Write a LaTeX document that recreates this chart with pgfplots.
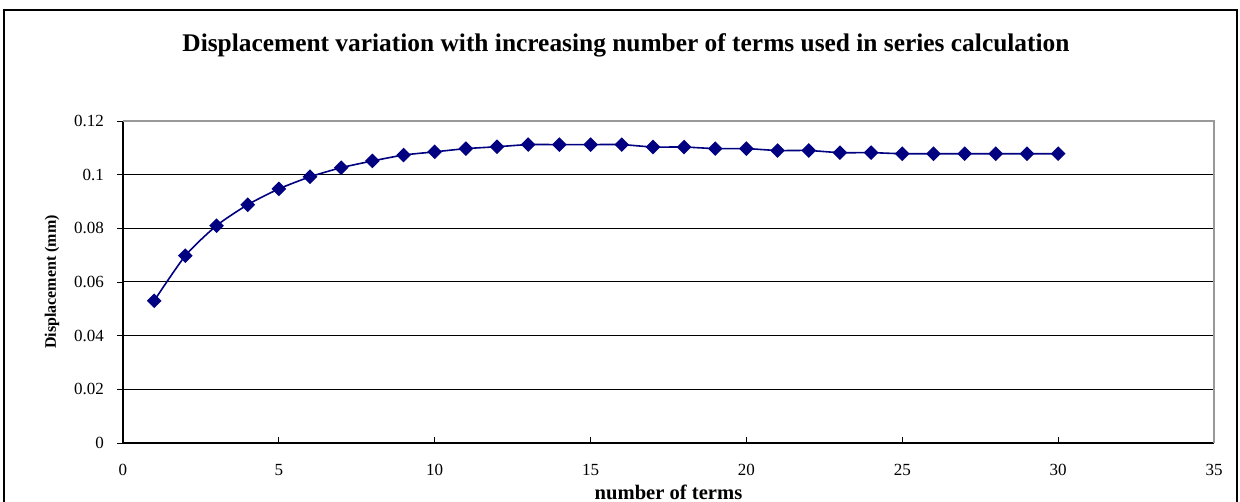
\documentclass[border=0pt]{standalone}
\usepackage{pgfplots}
\pgfplotsset{compat=1.18}
\usepackage{fontspec}
\setmainfont{Liberation Serif}
\definecolor{navy}{RGB}{0,0,128}
\begin{document}
\begin{tikzpicture}
\begin{axis}[
  at={(0,0)}, anchor=south west,
  scale only axis, width=545.5pt, height=161pt,
  xmin=0, xmax=35, ymin=0, ymax=0.12,
  xtick={0,5,...,35}, ytick={0,0.02,...,0.12},
  yticklabels={0,0.02,0.04,0.06,0.08,0.1,0.12},
  /pgf/number format/assume math mode=true,
  ticklabel style={font=\fontsize{8.5}{10}\selectfont},
  axis x line*=bottom, axis y line*=left,
  axis line style={black, line width=0.6pt},
  x axis line style={-}, y axis line style={-},
  xtick pos=bottom, ytick pos=left,
  x tick style={black, line width=0.4pt}, y tick style={black, line width=0.4pt},
  xtick align=inside, ytick align=outside,
  major tick length=3pt,
  ymajorgrids, grid style={black, line width=0.5pt},
  xticklabel style={yshift=-7pt},
  yticklabel style={xshift=-3pt},
  xlabel={\textbf{number of terms}},
  ylabel={\textbf{Displacement (mm)}},
  xlabel style={at={(axis description cs:0.5,-0.152)}, anchor=center, font=\fontsize{10.3}{11}\selectfont},
  ylabel style={at={(axis description cs:-0.065,0.5)}, anchor=center, font=\fontsize{8}{10}\selectfont},
  clip=false,
]
\draw[gray!80, line width=0.6pt] (rel axis cs:0,1) -- (rel axis cs:1,1) -- (rel axis cs:1,0);
\addplot[navy, line width=0.8pt, smooth, tension=0.4, mark=square*, mark size=2.2pt, mark options={rotate=45, fill=navy, draw=navy}] coordinates {
(1,0.0530) (2,0.0698) (3,0.0810) (4,0.0888) (5,0.0947) (6,0.0992) (7,0.1026) (8,0.1051) (9,0.1073) (10,0.1085)
(11,0.1097) (12,0.1104) (13,0.1112) (14,0.1112) (15,0.1112) (16,0.1112) (17,0.1103) (18,0.1103) (19,0.1097) (20,0.1097)
(21,0.1090) (22,0.1090) (23,0.1082) (24,0.1082) (25,0.1078) (26,0.1078) (27,0.1078) (28,0.1078) (29,0.1078) (30,0.1078)
};
\node[font=\bfseries\fontsize{12.7}{14}\selectfont, anchor=center] at (rel axis cs:0.461,1.235) {Displacement variation with increasing number of terms used in series calculation};
\end{axis}
\draw[black, line width=0.7pt] (-59.5pt,-40pt) -- (-59.5pt,216.5pt) -- (557pt,216.5pt) -- (557pt,-40pt);
\pgfresetboundingbox
\useasboundingbox (-61.5pt,-29.5pt) rectangle (558.5pt,221.5pt);
\end{tikzpicture}
\end{document}
